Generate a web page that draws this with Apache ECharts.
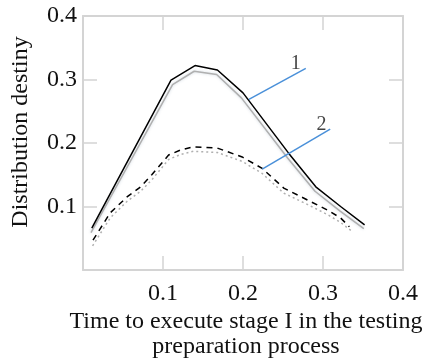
<!DOCTYPE html>
<html><head><meta charset="utf-8">
<script src="https://cdn.jsdelivr.net/npm/echarts@6/dist/echarts.min.js"></script>
<style>html,body{margin:0;padding:0;background:#fff}#c{width:422px;height:360px}</style>
</head><body><div id="c"></div>
<script>
const xTicks = [0, 0.1, 0.2, 0.3, 0.4];
const yTicks = [0, 0.1, 0.2, 0.3, 0.4];
const curve1 = [[0.011,0.066],[0.110,0.299],[0.140,0.322],[0.168,0.315],[0.200,0.279],[0.257,0.184],[0.291,0.131],[0.322,0.100],[0.352,0.071]];
const curve1Sim = [[0.010,0.059],[0.112,0.292],[0.139,0.313],[0.167,0.308],[0.198,0.271],[0.256,0.176],[0.290,0.124],[0.321,0.093],[0.351,0.065]];
const curve2 = [[0.0125,0.047],[0.034,0.090],[0.055,0.115],[0.072,0.131],[0.086,0.150],[0.107,0.181],[0.122,0.189],[0.138,0.194],[0.168,0.192],[0.199,0.178],[0.224,0.160],[0.251,0.129],[0.281,0.110],[0.306,0.094],[0.322,0.082],[0.333,0.068]];
const curve2Sim = [[0.012,0.038],[0.034,0.082],[0.055,0.108],[0.072,0.124],[0.086,0.142],[0.107,0.174],[0.122,0.182],[0.138,0.187],[0.168,0.185],[0.199,0.171],[0.224,0.152],[0.251,0.121],[0.281,0.103],[0.306,0.087],[0.322,0.075],[0.335,0.062]];
const leader1 = [[0.2074,0.2688],[0.2785,0.3176]];
const leader2 = [[0.2240,0.1590],[0.3090,0.2220]];
const labels = [{name:'1', coord:[0.266,0.325]},{name:'2', coord:[0.298,0.228]}];

const axisCol = '#d4d4d4';
const font = 'Liberation Serif';
const chart = echarts.init(document.getElementById('c'));
const baseX = {type:'value', min:0, max:0.4, interval:0.1,
  axisLine:{show:true, onZero:false, lineStyle:{color:axisCol, width:2}},
  axisTick:{show:true, inside:true, length:14, lineStyle:{color:axisCol, width:1.5}},
  splitLine:{show:false}};
const baseY = {type:'value', min:0, max:0.4, interval:0.1,
  axisLine:{show:true, onZero:false, lineStyle:{color:axisCol, width:2}},
  axisTick:{show:true, inside:true, length:14, lineStyle:{color:axisCol, width:1.5}},
  splitLine:{show:false}};
chart.setOption({
  animation:false,
  grid:{left:83, right:19, top:16, bottom:90},
  xAxis:[
    Object.assign({}, baseX, {position:'bottom',
      axisLabel:{show:true, margin:12, color:'#111', fontFamily:font, fontSize:24,
        formatter:v=> (v===0?'':String(v))}}),
    Object.assign({}, baseX, {position:'top', axisLabel:{show:false}})
  ],
  yAxis:[
    Object.assign({}, baseY, {position:'left',
      axisLabel:{show:true, margin:6, color:'#111', fontFamily:font, fontSize:24,
        formatter:v=> (v===0?'':String(v))}}),
    Object.assign({}, baseY, {position:'right', axisLabel:{show:false}})
  ],
  graphic:[
    {type:'text', x:246, y:322, style:{text:'Time to execute stage I in the testing', font:'24px "Liberation Serif"', fill:'#111', textAlign:'center', textVerticalAlign:'middle'}},
    {type:'text', x:246, y:347, style:{text:'preparation process', font:'24px "Liberation Serif"', fill:'#111', textAlign:'center', textVerticalAlign:'middle'}},
    {type:'text', x:21, y:132, rotation:Math.PI/2, style:{text:'Distribution destiny', font:'24px "Liberation Serif"', fill:'#111', textAlign:'center', textVerticalAlign:'middle'}}
  ],
  series:[
    {type:'line', data:curve1Sim, symbol:'none', lineStyle:{color:'#b0b0b0', width:1.5, shadowColor:'rgba(200,210,220,0.9)', shadowBlur:3}, z:2},
    {type:'line', data:curve1, symbol:'none', lineStyle:{color:'#000', width:1.5}, z:3},
    {type:'line', data:curve2Sim, symbol:'none', lineStyle:{color:'#b0b0b0', width:1.5, type:[2,3]}, z:2},
    {type:'line', data:curve2, symbol:'none', lineStyle:{color:'#000', width:1.5, type:[6,5]}, z:3},
    {type:'line', data:leader1, symbol:'none', lineStyle:{color:'#4a90d9', width:1.5}, z:4},
    {type:'line', data:leader2, symbol:'none', lineStyle:{color:'#4a90d9', width:1.5}, z:4},
    {type:'scatter', data:labels.map(l=>({value:l.coord, name:l.name})), symbolSize:0,
      label:{show:true, formatter:p=>p.name, position:'inside', color:'#111', fontFamily:font, fontSize:20}, z:5}
  ]
});
</script></body></html>
